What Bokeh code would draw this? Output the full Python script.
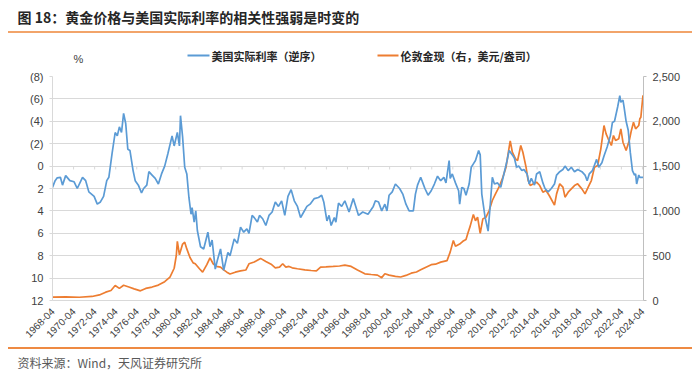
from bokeh.plotting import figure
from bokeh.models import Range1d, LinearAxis, FixedTicker, NumeralTickFormatter, Title, Div
from bokeh.layouts import column
from bokeh.core.properties import value
from bokeh.embed import file_html
from bokeh.resources import INLINE
import math

# ---------------- data ----------------
rate_t = [1968.25, 1968.5, 1968.7, 1969.0, 1969.2, 1969.5, 1969.9, 1970.3, 1970.6, 1971.1,
          1971.4, 1971.7, 1972.2, 1972.5, 1972.8, 1973.1, 1973.4, 1973.6, 1973.9, 1974.2,
          1974.4, 1974.6, 1974.8, 1975.0, 1975.2, 1975.4, 1975.6, 1975.9, 1976.1, 1976.4,
          1976.7, 1976.9, 1977.2, 1977.4, 1977.7, 1978.0, 1978.3, 1978.6, 1978.9, 1979.2,
          1979.6, 1979.8, 1980.1, 1980.3, 1980.4, 1980.6, 1980.8, 1981.0, 1981.2, 1981.4,
          1981.5, 1981.7, 1981.85, 1982.0, 1982.3, 1982.6, 1983.0, 1983.2, 1983.4, 1983.7,
          1983.9, 1984.2, 1984.5, 1984.9, 1985.1, 1985.5, 1985.8, 1986.1, 1986.4, 1986.7,
          1986.9, 1987.2, 1987.4, 1987.7, 1987.9, 1988.2, 1988.5, 1988.8, 1989.1, 1989.4,
          1989.7, 1990.0, 1990.3, 1990.6, 1990.9, 1991.2, 1991.5, 1991.8, 1992.1, 1992.4,
          1992.7, 1993.1, 1993.5, 1993.8, 1994.0, 1994.3, 1994.5, 1994.7, 1995.0, 1995.15,
          1995.4, 1995.7, 1996.0, 1996.4, 1996.8, 1997.3, 1997.7, 1998.2, 1998.7, 1998.9,
          1999.2, 1999.5, 1999.8, 2000.0, 2000.2, 2000.5, 2000.8, 2001.2, 2001.5, 2001.8,
          2002.1, 2002.5, 2002.7, 2002.9, 2003.2, 2003.4, 2003.6, 2003.9, 2004.2, 2004.5,
          2004.8, 2005.1, 2005.4, 2005.6, 2005.9, 2006.0, 2006.2, 2006.5, 2006.8, 2006.9,
          2007.1, 2007.3, 2007.5, 2007.8, 2008.0, 2008.2, 2008.4, 2008.7, 2008.85, 2009.0,
          2009.3, 2009.6, 2009.8, 2010.0, 2010.2, 2010.5, 2010.8, 2011.1, 2011.4, 2011.6,
          2011.9, 2012.1, 2012.3, 2012.5, 2012.8, 2013.0, 2013.3, 2013.5, 2013.7, 2014.0,
          2014.2, 2014.5, 2014.8, 2015.0, 2015.3, 2015.6, 2015.9, 2016.1, 2016.4, 2016.7,
          2016.9, 2017.2, 2017.5, 2017.8, 2018.1, 2018.5, 2018.8, 2019.0, 2019.2, 2019.5,
          2019.7, 2019.9, 2020.1, 2020.4, 2020.6, 2020.9, 2021.2, 2021.4, 2021.6, 2021.9,
          2022.1, 2022.2, 2022.4, 2022.5, 2022.7, 2022.9, 2023.1, 2023.3, 2023.5, 2023.6,
          2023.7, 2023.9, 2024.0, 2024.3]
real_rate = [1.9, 1.3, 1.05, 1.0, 1.7, 0.85, 1.3, 1.4, 2.0, 1.0,
             1.3, 2.3, 2.7, 3.4, 3.2, 2.7, 1.3, 1.0, -1.1, -3.0,
             -2.7, -3.5, -3.0, -4.7, -3.8, -1.5, -1.4, 0.4, 1.3, 1.7,
             2.4, 2.0, 1.7, 0.5, 0.8, 1.1, 1.6, 0.7, 0.0, -1.1,
             -2.7, -1.8, -3.0, -1.8, -4.5, -2.6, 0.1, 0.7, 2.8, 4.3,
             3.7, 5.0, 4.0, 5.75, 7.2, 7.4, 5.9, 7.2, 6.6, 9.2,
             8.4, 7.4, 9.3, 7.7, 8.0, 6.5, 6.9, 5.45, 5.9, 5.6,
             6.0, 4.4, 4.6, 5.0, 4.4, 4.7, 5.3, 4.4, 4.1, 3.2,
             3.6, 3.1, 4.4, 2.7, 2.1, 3.1, 3.6, 4.6, 4.1, 3.6,
             3.4, 2.9, 2.8, 2.6, 3.2, 4.9, 4.4, 5.3, 4.6, 5.0,
             3.3, 3.6, 3.1, 4.1, 2.9, 4.4, 4.1, 4.3, 3.6, 3.1,
             3.2, 4.0, 3.4, 4.0, 2.6, 2.3, 1.6, 2.0, 2.5, 3.4,
             4.0, 4.0, 2.5, 1.7, 1.0, 1.5, 2.0, 2.6, 2.2, 1.6,
             0.9, 1.3, 1.0, 1.5, -0.5, 1.1, 0.7, 1.5, 2.2, 3.4,
             1.9, 2.0, 2.6, 1.6, 0.1, -0.2, -0.5, -1.4, -1.0, 2.5,
             4.5, 5.8, 3.5, 1.0, 1.6, 1.5, 1.9, 0.7, -0.5, -1.4,
             -1.0, -0.7, 0.1, 0.0, 0.4, 0.3, 0.7, 1.6, 1.1, 1.7,
             0.7, 0.5, 1.5, 2.0, 2.3, 2.0, 1.6, 0.8, 0.5, 0.3,
             0.0, 0.4, 0.1, 0.5, 0.3, 0.5, 0.8, 1.3, 0.7, 0.4,
             -0.1, -0.6, 0.1, -0.3, -0.9, -1.7, -2.7, -3.9, -4.0, -5.3,
             -6.3, -5.7, -5.9, -5.3, -4.0, -3.2, -1.2, 0.4, 0.8, 0.7,
             1.6, 0.8, 1.0, 1.0]

gold_t = [1968.25, 1969.5, 1970.8, 1972.0, 1972.7, 1973.3, 1973.8, 1974.2, 1974.6, 1975.0,
          1975.5, 1976.0, 1976.6, 1977.1, 1977.7, 1978.3, 1978.9, 1979.4, 1979.8, 1980.0,
          1980.1, 1980.3, 1980.6, 1980.8, 1981.0, 1981.3, 1981.6, 1981.8, 1982.2, 1982.5,
          1982.9, 1983.2, 1983.5, 1983.8, 1984.2, 1984.5, 1984.8, 1985.1, 1985.6, 1986.1,
          1986.6, 1986.9, 1987.4, 1987.7, 1988.0, 1988.5, 1989.0, 1989.4, 1989.8, 1990.1,
          1990.4, 1990.7, 1991.0, 1991.5, 1992.2, 1992.8, 1993.3, 1993.7, 1994.2, 1994.9,
          1995.5, 1996.0, 1996.6, 1997.2, 1997.9, 1998.5, 1999.1, 1999.5, 1999.8, 2000.2,
          2000.8, 2001.3, 2001.8, 2002.3, 2002.8, 2003.2, 2003.7, 2004.2, 2004.6, 2005.1,
          2005.7, 2006.0, 2006.3, 2006.5, 2006.9, 2007.2, 2007.5, 2007.7, 2007.9, 2008.2,
          2008.4, 2008.6, 2008.85, 2009.1, 2009.4, 2009.7, 2010.0, 2010.3, 2010.7, 2011.0,
          2011.3, 2011.6, 2011.7, 2011.9, 2012.2, 2012.4, 2012.7, 2012.9, 2013.2, 2013.4,
          2013.6, 2013.9, 2014.2, 2014.5, 2014.8, 2015.1, 2015.4, 2015.9, 2016.1, 2016.4,
          2016.7, 2016.9, 2017.2, 2017.5, 2017.8, 2018.1, 2018.5, 2018.8, 2019.1, 2019.4,
          2019.7, 2020.0, 2020.3, 2020.6, 2020.8, 2021.0, 2021.3, 2021.5, 2021.7, 2022.0,
          2022.2, 2022.4, 2022.7, 2023.0, 2023.2, 2023.4, 2023.6, 2023.9, 2024.0, 2024.1,
          2024.3]
gold_price = [38, 40, 36, 45, 62, 93, 112, 167, 135, 170,
              150, 130, 108, 135, 150, 172, 210, 260, 360, 500,
              660, 510, 630, 650, 576, 480, 420, 410, 354, 316,
              400, 476, 410, 380, 372, 342, 316, 295, 316, 330,
              340, 410, 430, 450, 470, 435, 405, 365, 372, 410,
              372, 380, 365, 354, 342, 335, 330, 372, 375, 380,
              385, 395, 380, 340, 298, 290, 283, 255, 298, 283,
              270, 262, 280, 305, 318, 342, 372, 400, 405, 428,
              445, 540, 670, 605, 630, 660, 680, 760, 830, 960,
              890, 930, 750, 911, 930, 1004, 1116, 1190, 1283, 1376,
              1488, 1711, 1780, 1655, 1581, 1563, 1730, 1655, 1488, 1339,
              1283, 1302, 1321, 1283, 1209, 1228, 1172, 1065, 1190, 1302,
              1265, 1153, 1209, 1246, 1283, 1302, 1246, 1190, 1265, 1339,
              1488, 1507, 1693, 1953, 1860, 1805, 1730, 1842, 1786, 1805,
              1916, 1767, 1674, 1786, 1898, 1990, 1916, 1953, 2028, 2046,
              2290]

x_tick_years = list(range(1968, 2025, 2))
x_tick_labels = [f"{y}-04" for y in x_tick_years]
left_ticks = [-8, -6, -4, -2, 0, 2, 4, 6, 8, 10, 12]
left_tick_labels = ["(8)", "(6)", "(4)", "(2)", "0", "2", "4", "6", "8", "10", "12"]
right_ticks = [0, 500, 1000, 1500, 2000, 2500]

title_text = "图 18：黄金价格与美国实际利率的相关性强弱是时变的"
legend_rate = "美国实际利率（逆序）"
legend_gold = "伦敦金现（右，美元/盎司）"
unit_text = "%"
source_text = "资料来源：Wind，天风证券研究所"

# ---------------- styles ----------------
BLUE = "#5B9BD5"
ORANGE = "#ED7D31"
GRID = "#D9D9D9"
TICK_TXT = "#404040"
CJK = "Noto Sans CJK SC"
LAT = "Liberation Sans"
W = 700
FRAME_L, FRAME_R = 52, 643


def strip(height, top_border=0):
    f = figure(width=W, height=height, output_backend="svg", toolbar_location=None,
               x_range=Range1d(FRAME_L, FRAME_R), y_range=Range1d(height - top_border, 0),
               x_axis_type=None, y_axis_type=None, min_border_left=FRAME_L,
               min_border_right=W - FRAME_R, min_border_top=top_border, min_border_bottom=0,
               outline_line_color=None, background_fill_color="white",
               border_fill_color="white")
    f.grid.visible = False
    return f


def rule(color):
    return Div(text="", width=684, height=2, margin=(0, 0, 0, 8),
               styles={"background-color": color, "background": color})


# ---------------- header: title ----------------
head = strip(31, top_border=27)
head.add_layout(Title(text=title_text, align="left", offset=17 - FRAME_L, standoff=0,
                      vertical_align="middle", text_font=CJK, text_font_size="14px",
                      text_font_style="bold", text_color="#262626"), "above")

# ---------------- legend strip (page y 33..70) ----------------
leg = strip(37)
leg.segment(x0=[187, 377], x1=[209, 398], y0=[22, 22], y1=[22, 22],
            line_color=[BLUE, ORANGE], line_width=2)
leg.text(x=[211, 400], y=[22, 22], text=[legend_rate, legend_gold], text_font=value(CJK),
         text_font_size="11px", text_font_style="bold", text_color="#262626",
         text_baseline="middle")
leg.text(x=[78], y=[25], text=[unit_text], text_font=value(LAT), text_font_size="11px",
         text_color=TICK_TXT, text_baseline="middle", text_align="center")

# ---------------- main chart (page y 70..347) ----------------
tick_pos = [y + 0.25 for y in x_tick_years]

p = figure(width=W, height=277, output_backend="svg", toolbar_location=None,
           x_range=Range1d(1968.25, 2024.35), y_range=Range1d(12, -8),
           min_border_left=FRAME_L, min_border_right=W - FRAME_R, min_border_top=6,
           min_border_bottom=47, outline_line_color=None, background_fill_color="white",
           border_fill_color="white")
p.extra_y_ranges = {"gold": Range1d(0, 2500)}

p.xaxis.ticker = FixedTicker(ticks=tick_pos)
p.xaxis.major_label_overrides = {t: l for t, l in zip(tick_pos, x_tick_labels)}
p.xaxis.major_label_orientation = math.pi / 4
p.xaxis.major_label_text_font = LAT
p.xaxis.major_label_text_font_size = "10px"
p.xaxis.major_label_text_color = TICK_TXT
p.xaxis.axis_line_color = GRID
p.xaxis.major_tick_line_color = None
p.xaxis.minor_tick_line_color = None
p.xaxis.major_label_standoff = 3

p.yaxis.ticker = FixedTicker(ticks=left_ticks)
p.yaxis.major_label_overrides = {t: l for t, l in zip(left_ticks, left_tick_labels)}
p.yaxis.major_label_text_font = LAT
p.yaxis.major_label_text_font_size = "11px"
p.yaxis.major_label_text_color = TICK_TXT
p.yaxis.axis_line_color = GRID
p.yaxis.major_tick_line_color = GRID
p.yaxis.major_tick_out = 3
p.yaxis.major_tick_in = 0
p.yaxis.minor_tick_line_color = None
p.yaxis.major_label_standoff = 6

ax_r = LinearAxis(y_range_name="gold", ticker=FixedTicker(ticks=right_ticks),
                  formatter=NumeralTickFormatter(format="0,0"))
ax_r.major_label_text_font = LAT
ax_r.major_label_text_font_size = "11px"
ax_r.major_label_text_color = TICK_TXT
ax_r.axis_line_color = "#BFBFBF"
ax_r.major_tick_line_color = "#BFBFBF"
ax_r.major_tick_out = 3
ax_r.major_tick_in = 0
ax_r.minor_tick_line_color = None
ax_r.major_label_standoff = 6
p.add_layout(ax_r, "right")

p.xgrid.grid_line_color = None
p.ygrid.ticker = FixedTicker(ticks=left_ticks)
p.ygrid.grid_line_color = GRID

# small category ticks on the zero line
p.segment(x0=tick_pos, x1=tick_pos, y0=[0] * len(tick_pos), y1=[0.3] * len(tick_pos),
          line_color=GRID, line_width=1)

p.line(gold_t, gold_price, y_range_name="gold", line_color=ORANGE, line_width=1.7)
p.line(rate_t, real_rate, line_color=BLUE, line_width=1.7)

# ---------------- footer: source (page y 349..377) ----------------
foot = strip(28, top_border=22)
foot.add_layout(Title(text=source_text, align="left", offset=17 - FRAME_L, standoff=0,
                      vertical_align="middle", text_font=CJK, text_font_size="12px",
                      text_font_style="normal", text_color="#595959"), "above")

layout = column(head, rule("#F2A46A"), leg, p, rule("#EE8A43"), foot, spacing=0)
open("out.html", "w").write(file_html(layout, INLINE))
